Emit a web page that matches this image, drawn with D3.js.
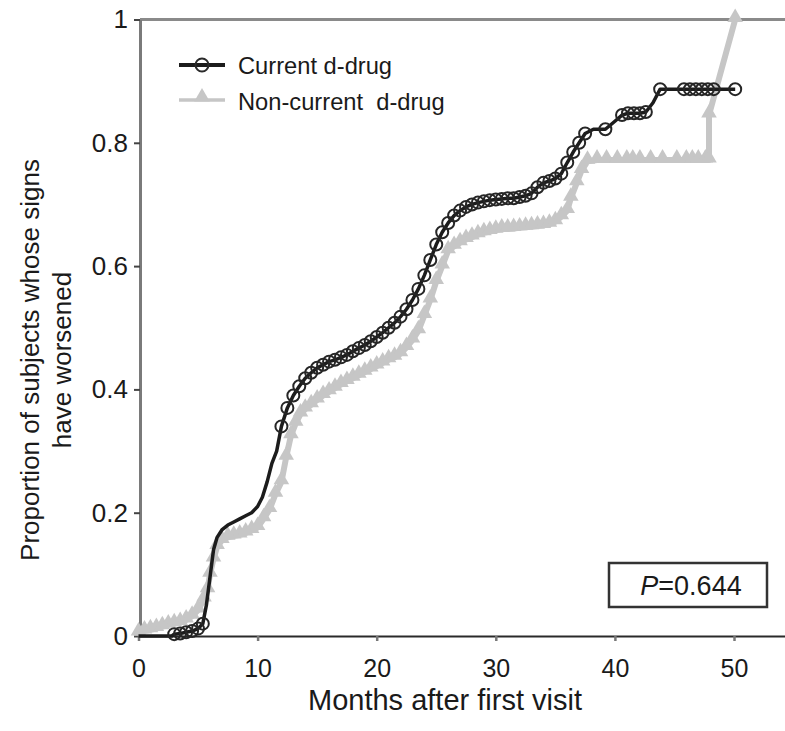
<!DOCTYPE html>
<html>
<head>
<meta charset="utf-8">
<script src="https://cdn.jsdelivr.net/npm/d3@7"></script>
<style>
  html, body { margin: 0; padding: 0; background: #fff; }
  svg { display: block; }
  text { font-family: "Liberation Sans", Arial, Helvetica, sans-serif; fill: #1a1a1a; }
</style>
</head>
<body>
<svg id="chart" width="785" height="731"></svg>
<script>
// ---------------- data ----------------
const seriesNames = ["Current d-drug", "Non-current  d-drug"];

const currentMonths = [0, 2.8, 3.0, 3.5, 4.0, 4.5, 5.0, 5.4, 5.7, 5.9, 6.1, 6.3, 6.6, 7.0, 7.5, 8.0, 8.5, 9.0, 9.5, 10.0,
  10.4, 10.8, 11.2, 11.6, 12.0, 12.5, 13.0, 13.5, 14.0, 14.5, 15.0, 15.5, 16.0, 16.5, 17.0, 17.5, 18.0, 18.5, 19.0, 19.5,
  20.0, 20.5, 21.0, 21.5, 22.0, 22.5, 23.0, 23.5, 24.0, 24.5, 25.0, 25.5, 26.0, 26.5, 27.0, 27.5, 28.0, 28.5, 29.0, 29.5,
  30.0, 30.5, 31.0, 31.5, 32.0, 32.5, 33.0, 33.5, 34.0, 34.5, 35.0, 35.5, 36.0, 36.5, 37.0, 37.5, 38.2, 39.2, 40.0, 40.6,
  41.1, 41.6, 42.1, 42.6, 43.2, 43.8, 45.8, 46.3, 46.8, 47.3, 47.8, 48.3, 50.1];
const currentProps = [0, 0, 0.003, 0.004, 0.006, 0.008, 0.012, 0.02, 0.05, 0.08, 0.11, 0.14, 0.16, 0.172, 0.18, 0.185, 0.19, 0.195, 0.2, 0.21,
  0.225, 0.25, 0.28, 0.30, 0.34, 0.37, 0.39, 0.405, 0.418, 0.427, 0.435, 0.44, 0.445, 0.448, 0.452, 0.456, 0.462, 0.467, 0.472, 0.478,
  0.485, 0.492, 0.50, 0.508, 0.518, 0.53, 0.545, 0.563, 0.585, 0.61, 0.635, 0.655, 0.67, 0.682, 0.69, 0.696, 0.70, 0.703, 0.705, 0.707,
  0.708, 0.709, 0.71, 0.71, 0.712, 0.714, 0.718, 0.728, 0.735, 0.738, 0.742, 0.75, 0.768, 0.785, 0.80, 0.815, 0.822, 0.822, 0.835, 0.845,
  0.848, 0.848, 0.848, 0.85, 0.865, 0.887, 0.887, 0.887, 0.887, 0.887, 0.887, 0.887, 0.887];
// 1 = censoring mark (circle) drawn at this point
const currentMarks = [0, 0, 1, 1, 1, 1, 1, 1, 0, 0, 0, 0, 0, 0, 0, 0, 0, 0, 0, 0,
  0, 0, 0, 0, 1, 1, 1, 1, 1, 1, 1, 1, 1, 1, 1, 1, 1, 1, 1, 1,
  1, 1, 1, 1, 1, 1, 1, 1, 1, 1, 1, 1, 1, 1, 1, 1, 1, 1, 1, 1,
  1, 1, 1, 1, 1, 1, 1, 1, 1, 1, 1, 1, 1, 1, 1, 1, 0, 1, 0, 1,
  1, 1, 1, 1, 0, 1, 1, 1, 1, 1, 1, 1, 1];

const nonCurrentMonths = [0, 0.5, 1.0, 1.5, 2.0, 2.5, 3.0, 3.5, 4.0, 4.5, 5.0, 5.5, 5.8, 6.0, 6.3, 6.6, 7.0, 7.5, 8.0, 8.5,
  9.0, 9.5, 10.0, 10.5, 11.0, 11.5, 12.0, 12.4, 12.8, 13.2, 13.6, 14.0, 14.5, 15.0, 15.5, 16.0, 16.5, 17.0, 17.5, 18.0,
  18.5, 19.0, 19.5, 20.0, 20.5, 21.0, 21.5, 22.0, 22.5, 23.0, 23.5, 24.0, 24.5, 25.0, 25.5, 26.0, 26.5, 27.0, 27.5, 28.0,
  28.5, 29.0, 29.5, 30.0, 30.5, 31.0, 31.5, 32.0, 32.5, 33.0, 33.5, 34.0, 34.5, 35.0, 35.5, 36.0, 36.3, 36.8, 37.2, 37.7,
  38.5, 39.3, 40.2, 41.0, 41.5, 42.1, 43.0, 44.0, 45.2, 46.0, 46.5, 47.0, 47.6, 47.9, 47.9, 50.1];
const nonCurrentProps = [0.005, 0.008, 0.01, 0.012, 0.015, 0.018, 0.02, 0.022, 0.026, 0.032, 0.042, 0.06, 0.075, 0.10, 0.125, 0.145, 0.155, 0.16, 0.162, 0.164,
  0.167, 0.171, 0.176, 0.19, 0.205, 0.23, 0.25, 0.29, 0.325, 0.345, 0.36, 0.368, 0.375, 0.383, 0.39, 0.396, 0.402, 0.408, 0.413, 0.418,
  0.423, 0.428, 0.433, 0.438, 0.443, 0.448, 0.452, 0.458, 0.468, 0.48, 0.495, 0.52, 0.545, 0.575, 0.60, 0.625, 0.632, 0.638, 0.643, 0.647,
  0.651, 0.654, 0.656, 0.658, 0.66, 0.66, 0.661, 0.662, 0.663, 0.664, 0.665, 0.666, 0.668, 0.672, 0.68, 0.69, 0.71, 0.735, 0.755, 0.77,
  0.772, 0.772, 0.772, 0.772, 0.772, 0.772, 0.772, 0.772, 0.772, 0.772, 0.772, 0.772, 0.772, 0.772, 0.845, 1.0];

const yTickValues = [0, 0.2, 0.4, 0.6, 0.8, 1];
const yTickLabels = ["0", "0.2", "0.4", "0.6", "0.8", "1"];
const xTickValues = [0, 10, 20, 30, 40, 50];
const xTickLabels = ["0", "10", "20", "30", "40", "50"];
const xTitle = "Months after first visit";
const yTitleLines = ["Proportion of subjects whose signs", "have worsened"];
const pValueLabel = "0.644";

// ---------------- chart ----------------
const svg = d3.select("#chart");
svg.append("rect").attr("width", 785).attr("height", 731).attr("fill", "#fff");

const x = d3.scaleLinear().domain([0, 55]).range([138.5, 138.5 + 55 * 11.91]);
const y = d3.scaleLinear().domain([0, 1]).range([636, 19.5]);
const axisX0 = 140;

// top frame line
svg.append("line")
  .attr("x1", axisX0).attr("x2", 785)
  .attr("y1", y(1)).attr("y2", y(1))
  .attr("stroke", "#8a8a8a").attr("stroke-width", 3);

// y axis
const yAxis = svg.append("g")
  .attr("transform", `translate(${axisX0},0)`)
  .call(d3.axisLeft(y).tickValues(yTickValues)
    .tickFormat((d, i) => yTickLabels[i]).tickSize(6).tickSizeOuter(0).tickPadding(6));
yAxis.select(".domain").attr("stroke", "#7a7a7a").attr("stroke-width", 3);
yAxis.selectAll(".tick line").attr("stroke", "#444").attr("stroke-width", 2);
yAxis.selectAll(".tick text").attr("font-size", 26).attr("fill", "#1a1a1a")
  .style("font-family", "'Liberation Sans', Arial, sans-serif");

// x axis
const xAxis = svg.append("g")
  .attr("transform", `translate(0,${y(0)})`)
  .call(d3.axisBottom(x).tickValues(xTickValues)
    .tickFormat((d, i) => xTickLabels[i]).tickSize(5).tickSizeOuter(0).tickPadding(18));
xAxis.select(".domain").attr("stroke", "#2a2a2a").attr("stroke-width", 2);
xAxis.selectAll(".tick line").attr("stroke", "#777").attr("stroke-width", 2.5);
xAxis.selectAll(".tick text").attr("font-size", 25).attr("fill", "#1a1a1a")
  .style("font-family", "'Liberation Sans', Arial, sans-serif");

// axis titles
svg.append("text")
  .attr("x", 445).attr("y", 710)
  .attr("text-anchor", "middle")
  .attr("font-size", 29)
  .text(xTitle);

const yTitle = svg.append("text")
  .attr("transform", "translate(0,360) rotate(-90)")
  .attr("text-anchor", "middle")
  .attr("font-size", 26);
yTitle.append("tspan").attr("x", 0).attr("y", 39).text(yTitleLines[0]);
yTitle.append("tspan").attr("x", 0).attr("y", 71).text(yTitleLines[1]);

// series
const grey = "#c6c6c6";
const dark = "#1c1c1c";
const line = d3.line().x(d => x(d.m)).y(d => y(d.p));

const nonCurrent = nonCurrentMonths.map((m, i) => ({ m, p: nonCurrentProps[i] }));
const current = currentMonths.map((m, i) => ({ m, p: currentProps[i], mark: currentMarks[i] }));

svg.append("path").datum(nonCurrent)
  .attr("d", line).attr("fill", "none")
  .attr("stroke", grey).attr("stroke-width", 6).attr("stroke-linejoin", "round");

const tri = d3.symbol().type(d3.symbolTriangle).size(105);
svg.append("g").selectAll("path").data(nonCurrent).join("path")
  .attr("d", tri)
  .attr("transform", d => `translate(${x(d.m)},${y(d.p) - 2})`)
  .attr("fill", grey);

svg.append("path").datum(current)
  .attr("d", line).attr("fill", "none")
  .attr("stroke", dark).attr("stroke-width", 3.5).attr("stroke-linejoin", "round");

svg.append("g").selectAll("circle").data(current.filter(d => d.mark)).join("circle")
  .attr("cx", d => x(d.m)).attr("cy", d => y(d.p)).attr("r", 6)
  .attr("fill", "none").attr("stroke", "#262626").attr("stroke-width", 2);

// legend
const lg = svg.append("g");
lg.append("line").attr("x1", 179).attr("x2", 225).attr("y1", 65).attr("y2", 65)
  .attr("stroke", dark).attr("stroke-width", 4);
lg.append("circle").attr("cx", 202).attr("cy", 65).attr("r", 6.5)
  .attr("fill", "none").attr("stroke", "#2a2a2a").attr("stroke-width", 2);
lg.append("text").attr("x", 238).attr("y", 74).attr("font-size", 23.7).text(seriesNames[0]);
lg.append("line").attr("x1", 179).attr("x2", 225).attr("y1", 100).attr("y2", 100)
  .attr("stroke", grey).attr("stroke-width", 3.5);
lg.append("path").attr("d", tri).attr("transform", "translate(202,97)").attr("fill", grey);
lg.append("text").attr("x", 238).attr("y", 110).attr("font-size", 23.7)
  .attr("xml:space", "preserve").style("white-space", "pre").text(seriesNames[1]);

// P value box
svg.append("rect").attr("x", 609).attr("y", 563).attr("width", 158).attr("height", 44)
  .attr("fill", "#fff").attr("stroke", "#333").attr("stroke-width", 2.5);
const pt = svg.append("text").attr("x", 691).attr("y", 595).attr("text-anchor", "middle").attr("font-size", 27);
pt.append("tspan").attr("font-style", "italic").text("P");
pt.append("tspan").text("=" + pValueLabel);
</script>
</body>
</html>
